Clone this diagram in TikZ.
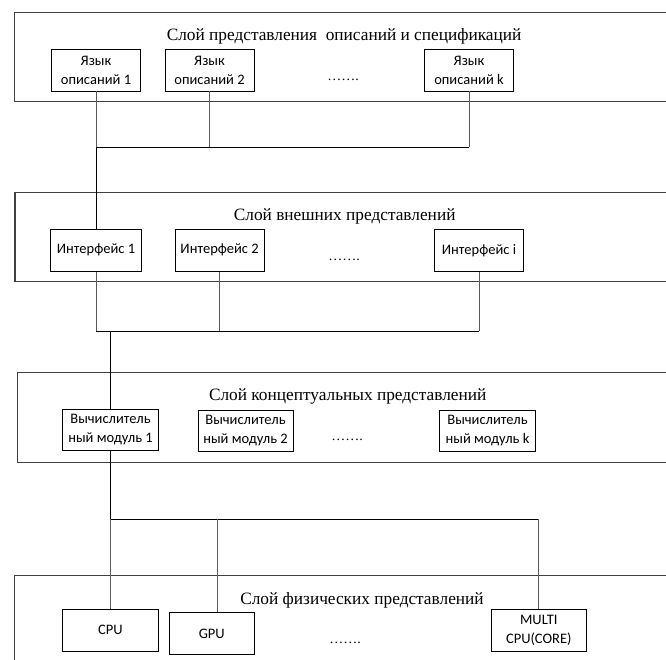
\documentclass[tikz,border=0pt]{standalone}
\usepackage{fontspec}
\setmainfont{Liberation Serif}
\newfontfamily\boxfont{Carlito}
\usepackage{tikz}

\begin{document}
\begin{tikzpicture}[x=1pt, y=-1pt,
    layer/.style={draw=black!75, line width=1.1pt},
    layer_title/.style={font=\fontsize{17.3}{20}\selectfont, inner sep=0pt},
    unit/.style={draw, line width=0.8pt, fill=white, align=center, inner sep=0pt,
        minimum height=42pt, font=\boxfont\fontsize{14.5}{19}\selectfont},
    dots/.style={font=\fontsize{14}{16}\selectfont, inner sep=0pt},
    stub/.style={draw=black!65, line width=0.9pt},
    bus/.style={draw=black, line width=1pt}]
    \useasboundingbox (0,0) rectangle (666,659);
    \clip (0,0) rectangle (666,659);

    \draw[layer] (14.7,12.3) rectangle (700,101.7);
    \draw[layer] (15.0,192.3) rectangle (700,281.7);
    \draw[layer] (17.3,372.3) rectangle (700,462.5);
    \draw[layer] (14.7,575.7) rectangle (700,700);

    \node[layer_title] (title_descr) at (344.1,36) {Слой представления \ описаний и спецификаций};
    \node[unit, minimum width=89.5pt] (lang_1) at (96,70) {Язык\\описаний 1};
    \node[unit, minimum width=88.8pt] (lang_2) at (209.5,70) {Язык\\описаний 2};
    \node[unit, minimum width=89.4pt] (lang_k) at (469,70) {Язык\\описаний k};
    \node[dots] (dots_descr) at (343,80) {…….};

    \node[layer_title] (title_ext) at (344.7,216.5) {Слой внешних представлений};
    \node[unit, minimum width=90.5pt] (iface_1) at (96,250.2) {Интерфейс 1};
    \node[unit, minimum width=89.2pt] (iface_2) at (219.6,250.2) {Интерфейс 2};
    \node[unit, minimum width=88.8pt] (iface_i) at (479,250.2) {Интерфейс i};
    \node[dots] (dots_ext) at (344,259.5) {…….};

    \node[layer_title] (title_conc) at (347.7,396) {Слой концептуальных представлений};
    \node[unit, minimum width=95.6pt, minimum height=41pt] (module_1) at (110.5,429.7) {Вычислитель\\ный модуль 1};
    \node[unit, minimum width=95.1pt, minimum height=41pt] (module_2) at (245.5,430.8) {Вычислитель\\ный модуль 2};
    \node[unit, minimum width=95.6pt, minimum height=41pt] (module_k) at (487.5,430.4) {Вычислитель\\ный модуль k};
    \node[dots] (dots_conc) at (347,439.5) {…….};

    \node[layer_title] (title_phys) at (362,600) {Слой физических представлений};
    \node[unit, minimum width=96.4pt] (hw_cpu) at (110.5,630.2) {CPU};
    \node[unit, minimum width=84.3pt] (hw_gpu) at (211.8,633.5) {GPU};
    \node[unit, minimum width=95.7pt] (hw_multi) at (538.8,630.2) {MULTI\\CPU(CORE)};
    \node[dots] (dots_phys) at (345,643) {…….};

    \coordinate (bus_a) at (0,147);
    \coordinate (bus_b) at (0,331);
    \coordinate (bus_c) at (0,519);
    \coordinate (gpu_tap) at (217.7,519);

    \draw[stub] (lang_1.south) -- (lang_1 |- bus_a);
    \draw[stub] (lang_2.south) -- (lang_2 |- bus_a);
    \draw[stub] (lang_k.south) -- (lang_k |- bus_a);
    \draw[bus] (lang_k |- bus_a) -- (lang_1 |- bus_a) -- (iface_1.north);

    \draw[stub] (iface_1.south) -- (iface_1 |- bus_b);
    \draw[stub] (iface_2.south) -- (iface_2 |- bus_b);
    \draw[stub] (iface_i.south) -- (iface_i |- bus_b);
    \draw[bus] (iface_i |- bus_b) -- (iface_1 |- bus_b);
    \draw[bus] (module_1 |- bus_b) -- (module_1.north);

    \draw[bus] (module_1.south) -- (module_1 |- bus_c) -- (hw_multi |- bus_c);
    \draw[stub] (hw_cpu |- bus_c) -- (hw_cpu.north);
    \draw[stub] (gpu_tap) -- (gpu_tap |- hw_gpu.north);
    \draw[stub] (hw_multi |- bus_c) -- (hw_multi.north);

\end{tikzpicture}
\end{document}
